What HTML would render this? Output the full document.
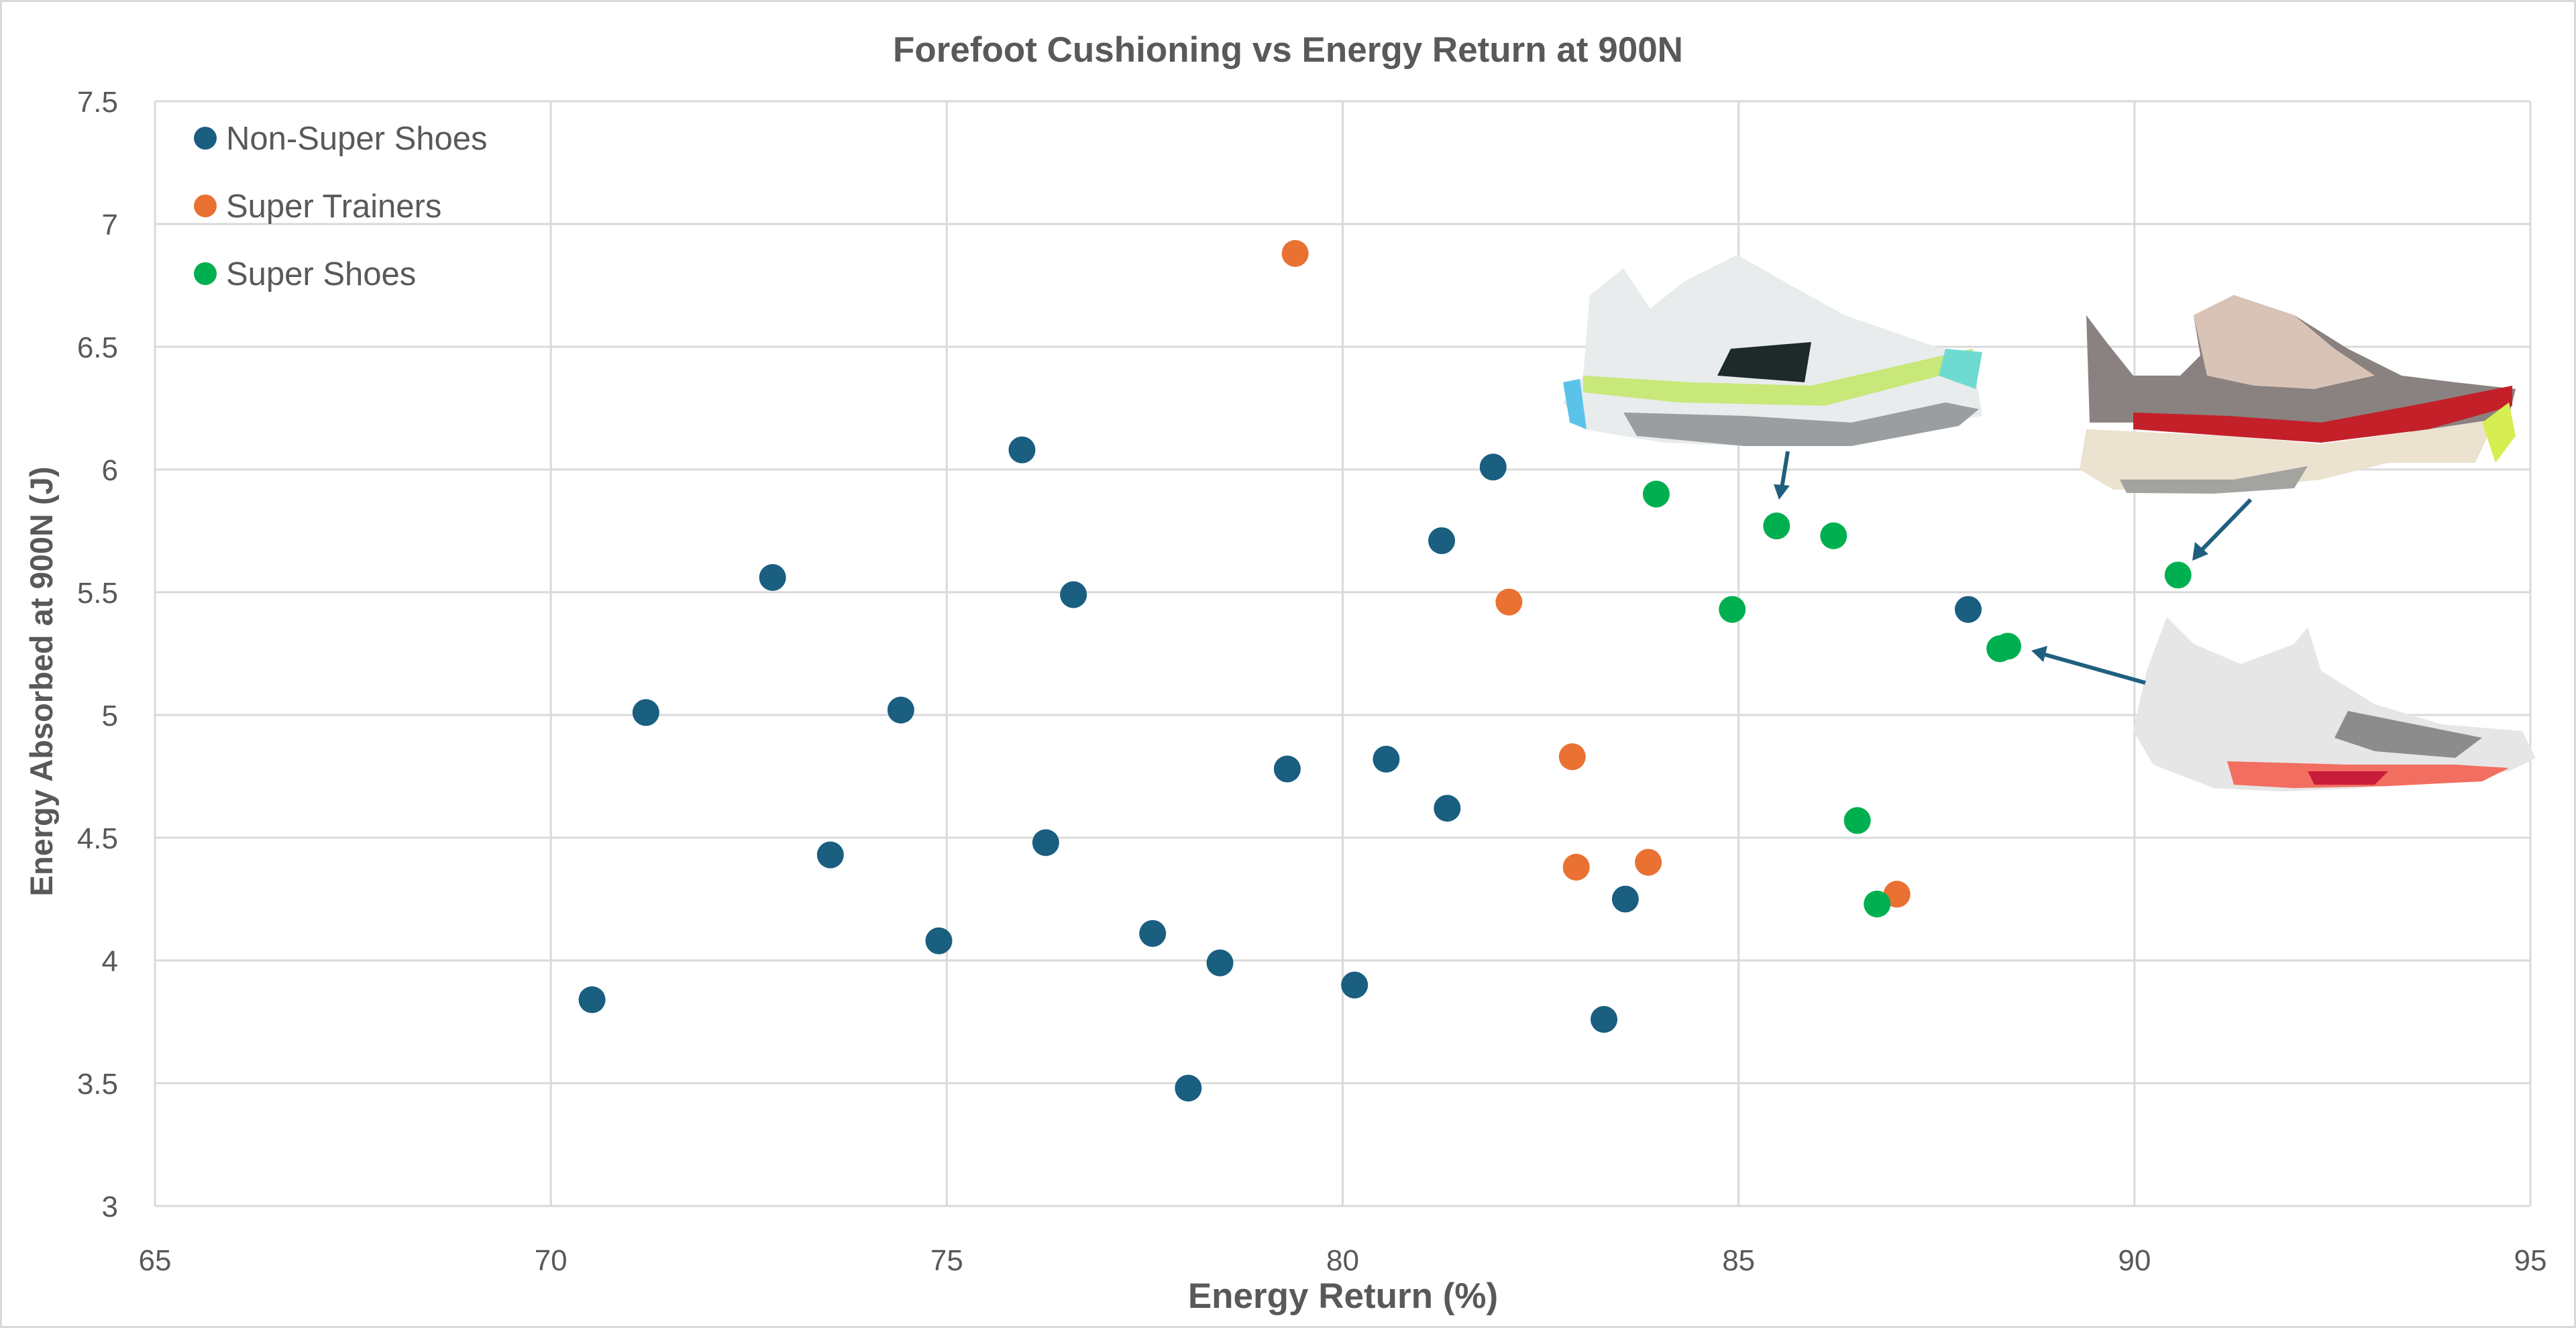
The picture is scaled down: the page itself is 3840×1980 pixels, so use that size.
<!DOCTYPE html>
<html><head><meta charset="utf-8"><style>
html,body{margin:0;padding:0;background:#fff}
svg{display:block}
text{font-family:"Liberation Sans",sans-serif}
</style></head><body>
<svg id="chart" width="3840" height="1980" viewBox="0 0 3840 1980" xmlns="http://www.w3.org/2000/svg">
<rect x="1.5" y="1.5" width="3837" height="1977" fill="#fff" stroke="#d9d9d9" stroke-width="3"/>
<text x="1920" y="92" text-anchor="middle" font-size="53" font-weight="bold" fill="#595959">Forefoot Cushioning vs Energy Return at 900N</text>
<g id="grid"></g>
<g id="axes"></g>
<text x="2002" y="1950" text-anchor="middle" font-size="53" font-weight="bold" fill="#595959">Energy Return (%)</text>
<text transform="translate(78,1016) rotate(-90)" text-anchor="middle" font-size="47" font-weight="bold" fill="#595959">Energy Absorbed at 900N (J)</text>

<g>
<path d="M2370 440 L2420 400 L2460 460 L2510 420 L2590 380 L2660 420 L2750 470 L2880 515 L2940 530 L2955 620 L2870 635 L2720 665 L2600 665 L2480 660 L2360 640 L2330 600 L2360 560 Z" fill="#e8ecec"/>
<path d="M2360 560 L2520 570 L2700 575 L2940 520 L2950 545 L2720 605 L2500 600 L2360 585 Z" fill="#c8e87a"/>
<path d="M2560 560 L2580 520 L2700 510 L2690 570 Z" fill="#1e2a2a"/>
<path d="M2420 615 L2600 620 L2760 630 L2900 600 L2950 610 L2920 635 L2760 665 L2600 665 L2440 650 Z" fill="#9a9ea0"/>
<path d="M2900 520 L2955 525 L2945 580 L2890 560 Z" fill="#6fdad0"/>
<path d="M2330 570 L2355 565 L2365 640 L2340 630 Z" fill="#5bc3ea"/>
</g>
<g>
<path d="M3110 470 L3140 510 L3180 560 L3250 560 L3280 530 L3270 470 L3330 440 L3420 470 L3500 520 L3580 560 L3660 570 L3750 580 L3740 620 L3660 650 L3560 640 L3420 640 L3300 640 L3180 630 L3115 630 Z" fill="#8a8280"/>
<path d="M3270 470 L3330 440 L3420 470 L3480 520 L3540 560 L3450 580 L3360 575 L3290 560 Z" fill="#d8c3b6"/>
<path d="M3180 615 L3320 620 L3460 630 L3620 600 L3745 575 L3745 605 L3620 640 L3460 660 L3320 650 L3180 640 Z" fill="#c4202a"/>
<path d="M3110 640 L3320 650 L3460 662 L3620 640 L3720 625 L3690 690 L3560 690 L3460 715 L3320 730 L3150 730 L3100 700 Z" fill="#ebe2cf"/>
<path d="M3160 715 L3330 715 L3440 695 L3420 728 L3300 736 L3170 735 Z" fill="#a3a3a0"/>
<path d="M3700 630 L3740 600 L3750 650 L3720 690 Z" fill="#d6ee52"/>
</g>
<g>
<path d="M3200 1000 L3230 920 L3270 960 L3340 990 L3420 960 L3440 935 L3460 1000 L3540 1050 L3640 1080 L3760 1090 L3780 1130 L3740 1150 L3650 1160 L3520 1175 L3400 1180 L3300 1175 L3210 1140 L3180 1090 Z" fill="#e6e6e6"/>
<path d="M3500 1060 L3600 1080 L3700 1100 L3660 1130 L3540 1120 L3480 1100 Z" fill="#8c8c8c"/>
<path d="M3320 1135 L3500 1140 L3660 1140 L3740 1145 L3700 1165 L3560 1172 L3420 1175 L3330 1170 Z" fill="#f26e60"/>
<path d="M3440 1150 L3560 1150 L3540 1170 L3450 1170 Z" fill="#c81d3a"/>
</g>
<g stroke="#1f5f7f" stroke-width="6" fill="#1f5f7f">
<line x1="2665" y1="673" x2="2656" y2="728"/>
<polygon points="2644,722 2668,724 2652,745" stroke="none"/>
<line x1="3355" y1="745" x2="3282" y2="820"/>
<polygon points="3272,808 3292,826 3268,836" stroke="none"/>
<line x1="3198" y1="1018" x2="3045" y2="975"/>
<polygon points="3052,963 3046,987 3028,970" stroke="none"/>
</g>
<g id="points"></g>

<g>
<g><ellipse cx="306" cy="206" rx="17" ry="17" fill="#1a5e80"/><text x="337" y="223" font-size="49" fill="#595959">Non-Super Shoes</text></g>
<g><ellipse cx="306" cy="307" rx="17" ry="17" fill="#e97132"/><text x="337" y="324" font-size="49" fill="#595959">Super Trainers</text></g>
<g><ellipse cx="306" cy="408" rx="17" ry="17" fill="#00b050"/><text x="337" y="425" font-size="49" fill="#595959">Super Shoes</text></g>
</g>
</svg>
<script>
const xTicks = [65, 70, 75, 80, 85, 90, 95];
const yTicks = [3, 3.5, 4, 4.5, 5, 5.5, 6, 6.5, 7, 7.5];
const nonSuperX = [70.52, 71.2, 72.8, 73.53, 74.42, 74.9, 75.95, 76.25, 76.6, 77.6, 78.45, 78.05, 79.3, 80.15, 80.55, 81.25, 81.32, 81.9, 83.3, 83.57, 87.9];
const nonSuperY = [3.84, 5.01, 5.56, 4.43, 5.02, 4.08, 6.08, 4.48, 5.49, 4.11, 3.99, 3.48, 4.78, 3.90, 4.82, 5.71, 4.62, 6.01, 3.76, 4.25, 5.43];
const trainerX = [79.4, 82.1, 82.9, 82.95, 83.86, 87.0];
const trainerY = [6.88, 5.46, 4.83, 4.38, 4.40, 4.27];
const superX = [83.96, 84.92, 85.48, 86.2, 86.5, 86.75, 88.3, 88.4, 90.55];
const superY = [5.90, 5.43, 5.77, 5.73, 4.57, 4.23, 5.27, 5.28, 5.57];

const NS = "http://www.w3.org/2000/svg";
const L = 231, R = 3772, T = 151, B = 1798;
const xMin = 65, xMax = 95, yMin = 3, yMax = 7.5;
function X(v){ return L + (v - xMin) / (xMax - xMin) * (R - L); }
function Y(v){ return B - (v - yMin) / (yMax - yMin) * (B - T); }
function mk(tag, attrs, parent){
  const e = document.createElementNS(NS, tag);
  for (const k in attrs) e.setAttribute(k, attrs[k]);
  parent.appendChild(e);
  return e;
}
const grid = document.getElementById('grid');
const axes = document.getElementById('axes');
xTicks.forEach(function(t){
  const g = mk('line', {x1: X(t), x2: X(t), y1: T, y2: B, stroke: '#d9d9d9', 'stroke-width': 3}, grid);
  
  
  const lb = mk('text', {x: X(t), y: B + 96, 'text-anchor': 'middle', 'font-size': 44, fill: '#595959'}, axes);
  lb.textContent = String(t);
  
  
});
yTicks.forEach(function(t){
  const g = mk('line', {x1: L, x2: R, y1: Y(t), y2: Y(t), stroke: '#d9d9d9', 'stroke-width': 3}, grid);
  
  
  const lb = mk('text', {x: L - 55, y: Y(t) + 16, 'text-anchor': 'end', 'font-size': 44, fill: '#595959'}, axes);
  lb.textContent = String(t);
  
  
});
const pts = document.getElementById('points');
function series(xs, ys, color, name){
  xs.forEach(function(x, i){
    const c = mk('ellipse', {cx: X(x), cy: Y(ys[i]), rx: 20, ry: 20, fill: color}, pts);
    
    
  });
}
series(nonSuperX, nonSuperY, '#1a5e80', 'point-non-super-shoe');
series(trainerX, trainerY, '#e97132', 'point-super-trainer');
series(superX, superY, '#00b050', 'point-super-shoe');
</script>
</body></html>
